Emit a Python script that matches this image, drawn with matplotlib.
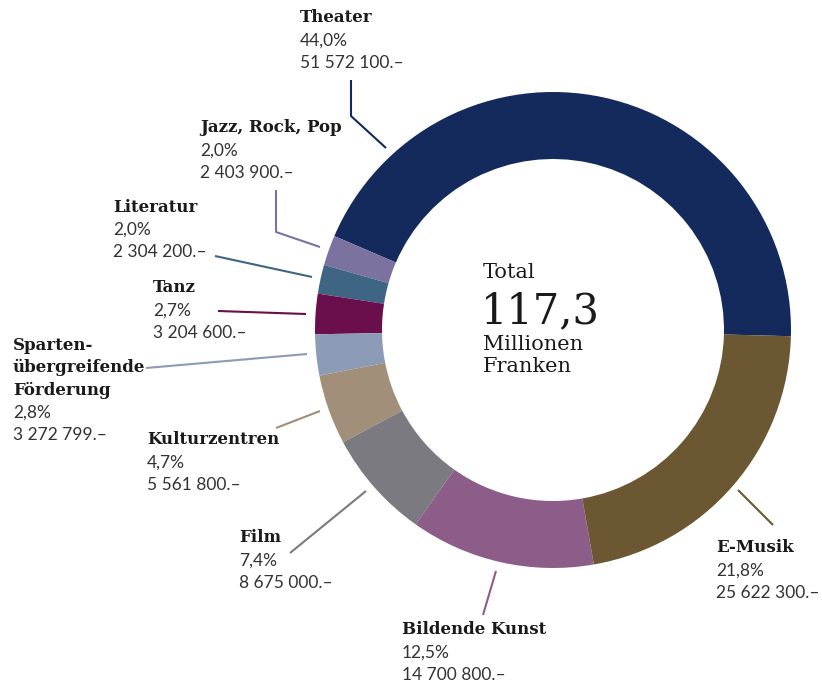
import matplotlib
matplotlib.use('Agg')
import matplotlib.pyplot as plt

# categories in counterclockwise order, starting at 3 o'clock
categories = ['Theater', 'Jazz, Rock, Pop', 'Literatur', 'Tanz',
              'Sparten-\nübergreifende\nFörderung', 'Kulturzentren', 'Film',
              'Bildende Kunst', 'E-Musik']
amounts = [51572100, 2403900, 2304200, 3204600, 3272799, 5561800, 8675000,
           14700800, 25622300]
percents = ['44,0%', '2,0%', '2,0%', '2,7%', '2,8%', '4,7%', '7,4%', '12,5%', '21,8%']
colors = ['#142a5c', '#7b72a0', '#3f6584', '#6a0f4b', '#8c9cb6', '#a18f79',
          '#7a7a80', '#8d5d8a', '#6c5733']

# label layout in pixels: text left x, first line y, leader polyline
label_pos = [
    (300, 18, [(351, 80), (351, 116), (386, 148)]),
    (200, 128, [(276, 190), (276, 232), (320, 247)]),
    (113, 207, [(215, 256), (312, 277)]),
    (153, 288, [(218, 311), (306, 314)]),
    (13, 345, [(146, 368), (307, 354)]),
    (147, 440, [(276, 428), (320, 411)]),
    (239, 538, [(290, 553), (366, 491)]),
    (402, 630, [(483, 615), (496, 571)]),
    (716, 548, [(738, 490), (773, 525)]),
]

W, H = 822, 684
dpi = 100
fig = plt.figure(figsize=(W / dpi, H / dpi), dpi=dpi)
ax = fig.add_axes([0, 0, 1, 1])

# y axis is flipped so everything is in pixel coordinates; this mirrors the
# pie, hence clockwise drawing with a positive start angle
ax.pie(amounts, colors=colors, center=(553, 330), radius=238,
       startangle=1.5, counterclock=False,
       wedgeprops=dict(width=67, linewidth=0))
ax.set_xlim(0, W)
ax.set_ylim(H, 0)
ax.set_aspect('equal')
ax.set_axis_off()

title_font = dict(family='DejaVu Serif', weight='bold', size=12, color='#1a1a1a')
num_font = dict(family='Lato', weight='normal', size=12.5, color='#333333')
step = 22.5

def fmt_amount(v):
    return f'{v:,}'.replace(',', ' ') + '.\u2013'

for name, amt, pct, col, (x, y, leader) in zip(categories, amounts, percents,
                                               colors, label_pos):
    lines = name.split('\n')
    for i, line in enumerate(lines):
        ax.text(x, y + i * step, line, va='center', ha='left', **title_font)
    n = len(lines)
    ax.text(x, y + n * step, pct, va='center', ha='left', **num_font)
    ax.text(x, y + (n + 1) * step, fmt_amount(amt), va='center', ha='left', **num_font)
    xs, ys = zip(*leader)
    ax.plot(xs, ys, color=col, lw=1.5, solid_capstyle='butt')

# centre text
center_font = dict(family='DejaVu Serif', color='#1a1a1a', ha='left', va='center')
ax.text(483, 272, 'Total', size=15, **center_font)
ax.text(481, 311, '117,3', size=30, **center_font)
ax.text(483, 344, 'Millionen', size=15, **center_font)
ax.text(483, 367, 'Franken', size=15, **center_font)

fig.savefig('out.png', dpi=dpi)
plt.close(fig)
